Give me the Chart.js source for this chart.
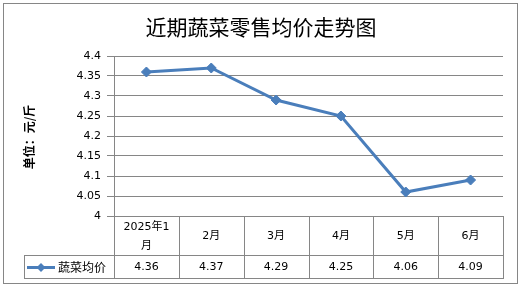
<!DOCTYPE html>
<html>
<head>
<meta charset="utf-8">
<script src="https://cdn.jsdelivr.net/npm/chart.js@4"></script>
<style>
  html, body { margin: 0; padding: 0; background: #fff; }
  #wrap { width: 521px; height: 287px; }
</style>
</head>
<body>
<div id="wrap"><canvas id="chart" width="521" height="287"></canvas></div>
<script>
const title = '近期蔬菜零售均价走势图';
const yTitle = '单位：元/斤';
const seriesName = '蔬菜均价';
const categories = [['2025年1', '月'], '2月', '3月', '4月', '5月', '6月'];
const prices = [4.36, 4.37, 4.29, 4.25, 4.06, 4.09];
const yMin = 4;
const yMax = 4.4;
const yStep = 0.05;

const lineColor = '#4A7EBB';
const gridColor = '#868686';
const tableFont = '11px "DejaVu Sans", "Noto Sans CJK SC"';

// draws the frame, titles and the data table under the x axis
const decor = {
  id: 'decor',
  beforeDraw(chart) {
    const ctx = chart.ctx;
    ctx.save();
    ctx.fillStyle = '#fff';
    ctx.fillRect(0, 0, chart.width, chart.height);
    ctx.strokeStyle = gridColor;
    ctx.lineWidth = 1;
    ctx.strokeRect(3.5, 3.5, 514, 280);
    ctx.restore();
  },
  afterDraw(chart) {
    const ctx = chart.ctx;
    const x = chart.scales.x;
    const area = chart.chartArea;
    const colW = (area.right - area.left) / categories.length;
    const rowTop = area.bottom;
    const rowMid = rowTop + 39;
    const rowBot = rowMid + 23;
    const legLeft = 24;

    ctx.save();
    ctx.fillStyle = '#000';
    ctx.textAlign = 'center';
    ctx.textBaseline = 'middle';
    ctx.font = '21px "Noto Sans CJK SC"';
    ctx.fillText(title, 261, 27);

    ctx.save();
    ctx.translate(29, 137);
    ctx.rotate(-Math.PI / 2);
    ctx.font = 'bold 12px "Noto Sans CJK SC"';
    ctx.fillText(yTitle, 0, 0);
    ctx.restore();

    // table grid
    ctx.strokeStyle = gridColor;
    ctx.lineWidth = 1;
    ctx.beginPath();
    const hl = (y, x0, x1) => { ctx.moveTo(x0, Math.round(y) + 0.5); ctx.lineTo(x1, Math.round(y) + 0.5); };
    const vl = (xx, y0, y1) => { ctx.moveTo(Math.round(xx) + 0.5, y0); ctx.lineTo(Math.round(xx) + 0.5, y1); };
    hl(rowMid, legLeft, area.right + 1);
    hl(rowBot, legLeft, area.right + 1);
    vl(legLeft, rowMid, rowBot + 1);
    for (let i = 0; i <= categories.length; i++) {
      vl(area.left + i * colW, rowTop, rowBot + 1);
    }
    ctx.stroke();

    ctx.font = tableFont;
    categories.forEach((c, i) => {
      const cx = x.getPixelForValue(i);
      const lines = Array.isArray(c) ? c : [c];
      const lh = 19;
      const y0 = (rowTop + rowMid) / 2 - (lines.length - 1) * lh / 2 + 1;
      lines.forEach((t, j) => ctx.fillText(t, cx, y0 + j * lh));
      ctx.fillText(prices[i].toFixed(2), cx, (rowMid + rowBot) / 2 + 1);
    });

    // legend key
    const ly = Math.round((rowMid + rowBot) / 2) + 0.5;
    ctx.strokeStyle = lineColor;
    ctx.lineWidth = 3;
    ctx.beginPath();
    ctx.moveTo(27, ly);
    ctx.lineTo(55, ly);
    ctx.stroke();
    ctx.fillStyle = lineColor;
    ctx.beginPath();
    ctx.moveTo(41, ly - 4.5);
    ctx.lineTo(45.5, ly);
    ctx.lineTo(41, ly + 4.5);
    ctx.lineTo(36.5, ly);
    ctx.closePath();
    ctx.fill();
    ctx.fillStyle = '#000';
    ctx.textAlign = 'left';
    ctx.font = '12px "Noto Sans CJK SC"';
    ctx.fillText(seriesName, 58, ly);
    ctx.restore();
  }
};

new Chart(document.getElementById('chart'), {
  type: 'line',
  data: {
    labels: categories,
    datasets: [{
      label: seriesName,
      data: prices,
      borderColor: lineColor,
      backgroundColor: lineColor,
      borderWidth: 3,
      pointStyle: 'rectRot',
      pointRadius: 5,
      pointBorderWidth: 1,
      tension: 0
    }]
  },
  options: {
    responsive: false,
    animation: false,
    events: [],
    layout: { padding: { left: 0, top: 56, right: 18, bottom: 71 } },
    plugins: { legend: { display: false }, title: { display: false }, tooltip: { enabled: false } },
    scales: {
      x: {
        offset: true,
        afterFit(scale) { scale.height = 0; },
        grid: { display: false },
        border: { display: true, color: gridColor, width: 1 },
        ticks: { display: false }
      },
      y: {
        min: yMin,
        max: yMax,
        afterFit(scale) { scale.width = 114; },
        grid: { color: gridColor, lineWidth: 1, tickLength: 7 },
        border: { display: true, color: gridColor, width: 1 },
        ticks: {
          stepSize: yStep,
          padding: 6,
          color: '#000',
          font: { family: '"DejaVu Sans"', size: 11 },
          callback: v => String(+v.toFixed(2))
        }
      }
    }
  },
  plugins: [decor]
});
</script>
</body>
</html>
